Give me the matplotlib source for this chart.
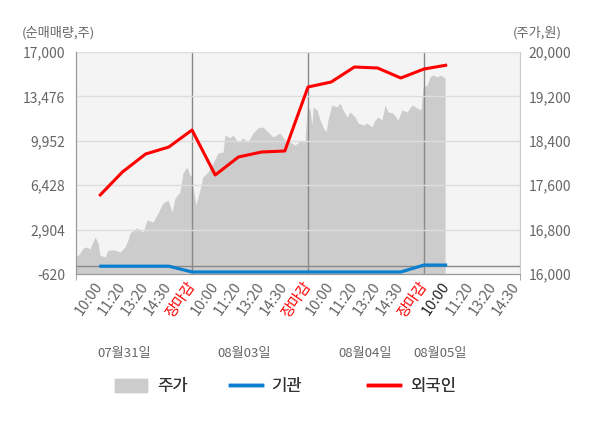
import matplotlib
matplotlib.use('Agg')
import matplotlib.pyplot as plt
from matplotlib.lines import Line2D
from matplotlib.patches import Patch

plt.rcParams['font.family'] = ['Noto Sans CJK KR', 'DejaVu Sans']

# price (주가), x in tick units (5 per day)
price_x = [0.00, 0.17, 0.30, 0.47, 0.60, 0.82, 0.95, 1.03, 1.25, 1.38, 1.68, 1.90,
           2.11, 2.24, 2.33, 2.63, 2.89, 3.06, 3.32, 3.53, 3.75, 3.97, 4.14, 4.27,
           4.48, 4.61, 4.78, 4.91, 5.00, 5.04, 5.17, 5.34, 5.47, 5.69, 5.91, 6.12,
           6.34, 6.42, 6.64, 6.77, 6.98, 7.20, 7.41, 7.63, 7.84, 8.06, 8.28, 8.49,
           8.79, 9.01, 9.22, 9.44, 9.66, 9.87, 9.96, 10.09, 10.17, 10.22, 10.39,
           10.52, 10.65, 10.78, 10.86, 11.03, 11.25, 11.38, 11.51, 11.68, 11.81,
           12.03, 12.16, 12.37, 12.54, 12.76, 12.89, 13.02, 13.19, 13.32, 13.45,
           13.66, 13.88, 14.05, 14.27, 14.48, 14.70, 14.87, 14.96, 15.13, 15.26,
           15.39, 15.56, 15.69, 15.91]
price_y = [16306, 16378, 16468, 16486, 16450, 16667, 16559, 16342, 16306, 16432, 16432, 16396,
           16486, 16613, 16739, 16829, 16757, 16973, 16937, 17099, 17279, 17333, 17117, 17369,
           17477, 17820, 17928, 17784, 17748, 17568, 17243, 17514, 17748, 17838, 18000, 18180,
           18198, 18505, 18450, 18505, 18378, 18450, 18378, 18541, 18631, 18649, 18559, 18469,
           18541, 18414, 18378, 18324, 18396, 18378, 19009, 18955, 18685, 19009, 18955,
           18775, 18649, 18559, 18775, 19045, 19009, 19081, 18955, 18829, 18919,
           18829, 18721, 18685, 18721, 18649, 18775, 18829, 18775, 19045, 18919,
           18901, 18775, 18955, 18919, 19045, 18991, 18955, 19369, 19405, 19550,
           19586, 19550, 19586, 19532]

flow_x = list(range(1, 17))
foreign = [5571, 7476, 8904, 9460, 10809, 7238, 8666, 9063, 9143,
           14222, 14619, 15810, 15730, 14937, 15651, 15968]
institution = [0, 0, 0, 0, -460, -460, -460, -460, -460,
               -460, -460, -460, -460, -460, 90, 90]

tick_pos = list(range(1, 20))
tick_labels = ['10:00', '11:20', '13:20', '14:30', '장마감'] * 3 + ['10:00', '11:20', '13:20', '14:30']
day_labels = ['07월31일', '08월03일', '08월04일', '08월05일']
day_pos = [2.07, 7.26, 12.46, 15.69]

vol_ticks = [-620, 2904, 6428, 9952, 13476, 17000]
price_ticks = [16000, 16800, 17600, 18400, 19200, 20000]

gray = '#666666'
blue = '#0a7fd0'
red = '#ff0000'

fig = plt.figure(figsize=(6, 4.28), dpi=100)
ax = fig.add_axes([0.1267, 0.3598, 0.74, 0.5187])
ax.set_facecolor('#f4f4f4')
ax.fill_between(price_x, 16000, price_y, color='#cccccc', lw=0)
ax.set_ylim(16000, 20000)
ax.set_xlim(0, 19.14)
# grid lines run over the price area in the original
ax.grid(axis='y', color='#dddddd', lw=1)
ax.set_axisbelow(False)
for d in [5, 10, 15]:
    ax.axvline(d, color='#888888', lw=1)

ax2 = ax.twinx()
ax2.set_ylim(-620, 17000)
ax2.axhline(0, color='#888888', lw=1)
ax2.plot(flow_x, institution, color=blue, lw=2.3, solid_capstyle='butt')
ax2.plot(flow_x, foreign, color=red, lw=2.2, solid_capstyle='butt')

# twinx flips the host ticks to the left, so set the sides afterwards
ax.yaxis.tick_right()
ax.set_yticks(price_ticks)
ax.set_yticklabels(['{:,}'.format(v) for v in price_ticks])
ax2.yaxis.tick_left()
ax2.set_yticks(vol_ticks)
ax2.set_yticklabels(['{:,}'.format(v) for v in vol_ticks])

for a in (ax, ax2):
    a.spines['top'].set_visible(False)
    a.spines['left'].set_color('#999999')
    a.spines['bottom'].set_color('#999999')
    a.spines['right'].set_color('#cccccc')
    a.tick_params(axis='y', length=0, labelsize=10, labelcolor=gray)
ax.tick_params(axis='y', pad=6)
ax2.tick_params(axis='y', pad=8)

ax.set_xticks(tick_pos)
ax.set_xticklabels(tick_labels, rotation=55, ha='right', va='center',
                   rotation_mode='anchor', fontsize=10.5)
ax.tick_params(axis='x', length=0, pad=7)
for i, t in enumerate(ax.get_xticklabels()):
    if tick_labels[i] == '장마감':
        t.set_color(red)
    elif i == 15:
        t.set_color('#222222')
    else:
        t.set_color(gray)
ax.set_xticks([0, 5, 10, 15, 19.14], minor=True)
ax.tick_params(axis='x', which='minor', length=4, color='#999999')

for p, lab in zip(day_pos, day_labels):
    ax.text(p, -0.356, lab, transform=ax.get_xaxis_transform(), ha='center',
            va='center', fontsize=9.5, color=gray)

fig.text(22 / 600, 1 - 33 / 428, '(순매매량,주)', ha='left', va='center', fontsize=9.5, color=gray)
fig.text(562 / 600, 1 - 33 / 428, '(주가,원)', ha='right', va='center', fontsize=9.5, color=gray)

# legend entries sit at uneven spacing, one small legend each
entries = [(Patch(color='#cccccc'), '주가', 115),
           (Line2D([], [], color=blue, lw=2.5), '기관', 230),
           (Line2D([], [], color=red, lw=2.5), '외국인', 368)]
for h, lab, px in entries:
    leg = fig.legend([h], [lab], loc='center left', bbox_to_anchor=(px / 600, 1 - 387 / 428),
                     frameon=False, fontsize=12, handlelength=1.9, handleheight=0.85,
                     handletextpad=0.6, borderpad=0, borderaxespad=0, labelcolor='#333333')
    fig.add_artist(leg)

fig.savefig('out.png', dpi=100)
